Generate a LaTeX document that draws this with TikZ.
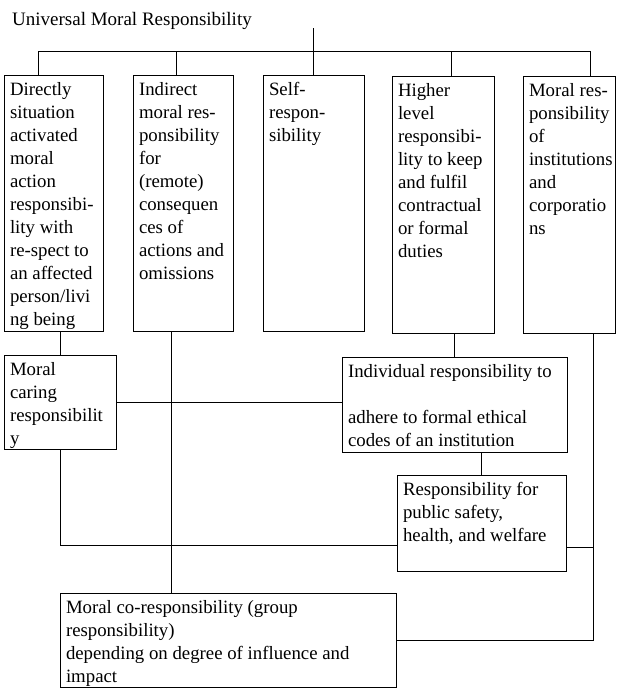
\documentclass[tikz,border=0pt]{standalone}
\usepackage{fontspec}
\setmainfont{Liberation Serif}
\hyphenpenalty=10000
\exhyphenpenalty=10000
\hfuzz=40pt
\vfuzz=40pt
\hbadness=10000
\vbadness=10000
\newcommand{\celltext}[3]{\makebox[#1][l]{\parbox[t][#2][t]{\dimexpr#1+30pt\relax}{\raggedright\rule{0pt}{20pt}#3}}}
\tikzset{
	cell/.style={draw,line width=0.8pt,anchor=north west,inner xsep=6pt,inner ysep=0pt,outer sep=0pt,font=\fontsize{18.8}{23}\selectfont},
	link/.style={line width=0.8pt}
}
\begin{document}
\begin{tikzpicture}[x=1pt,y=-1pt]
			\useasboundingbox (0,0) rectangle (616,688);
			\node[anchor=base west,inner sep=0pt,font=\fontsize{19}{23}\selectfont] (title) at (12,25) {Universal Moral Responsibility};
			% first row
			\node[cell] (direct) at (4,75) {\celltext{87pt}{256pt}{Directly\\situation\\activated\\moral\\action\\responsibi-\\lity with\\re-spect to\\an affected\\person/livi\\ng being}};
			\node[cell] (indirect) at (133,75) {\celltext{88pt}{256pt}{Indirect\\moral res-\\ponsibility\\for\\(remote)\\consequen\\ces of\\actions and\\omissions}};
			\node[cell] (self) at (263,75) {\celltext{89pt}{256pt}{Self-\\respon-\\sibility}};
			\node[cell] (higher) at (392,76) {\celltext{90pt}{257pt}{Higher\\level\\responsibi-\\lity to keep\\and fulfil\\contractual\\or formal\\duties}};
			\node[cell] (inst) at (523,76) {\celltext{80pt}{257pt}{Moral res-\\ponsibility\\of\\institutions\\and\\corporatio\\ns}};
			% lower boxes
			\node[cell] (caring) at (4,355) {\celltext{100pt}{94pt}{Moral\\caring\\responsibilit\\y}};
			\node[cell] (indiv) at (342,357) {\celltext{213pt}{95pt}{Individual responsibility to\\[23pt]adhere to formal ethical\\codes of an institution}};
			\node[cell] (public) at (397,475) {\celltext{157pt}{96pt}{Responsibility for\\public safety,\\health, and welfare}};
			\node[cell] (cores) at (60,593) {\celltext{324pt}{94pt}{Moral co-responsibility (group\\responsibility)\\depending on degree of influence and\\impact}};
			% connectors
			\coordinate (top) at (313,28);
			\coordinate (barL) at (38,51);
			\coordinate (barR) at (590,51);
			\draw[link] (self.north |- top) -- (self.north);
			\draw[link] (barL) -- (barR);
			\foreach \x/\n in {38/direct,176/indirect,451/higher,590/inst}
				\draw[link] (\x,51) -- (\x,51 |- \n.north);
			\draw[link] (caring.north) -- (caring.north |- direct.south);
			\draw[link] (caring.east) -- (caring.east -| indiv.west);
			\coordinate (lowbar) at (0,545);
			\draw[link] (caring.south) |- (lowbar -| public.west);
			\coordinate (bdrop) at ([xshift=38pt]indirect.south west);
			\draw[link] (bdrop) -- (bdrop |- cores.north);
			\draw[link] (indiv.north) -- (indiv.north |- higher.south);
			\draw[link] (public.north) -- (public.north |- indiv.south);
			\coordinate (edrop) at ([xshift=70pt]inst.south west);
			\draw[link] (edrop) |- (cores.east);
			\coordinate (pjoin) at ([yshift=-24pt]public.east);
			\draw[link] (pjoin) -- (pjoin -| edrop);
		\end{tikzpicture}
\end{document}
